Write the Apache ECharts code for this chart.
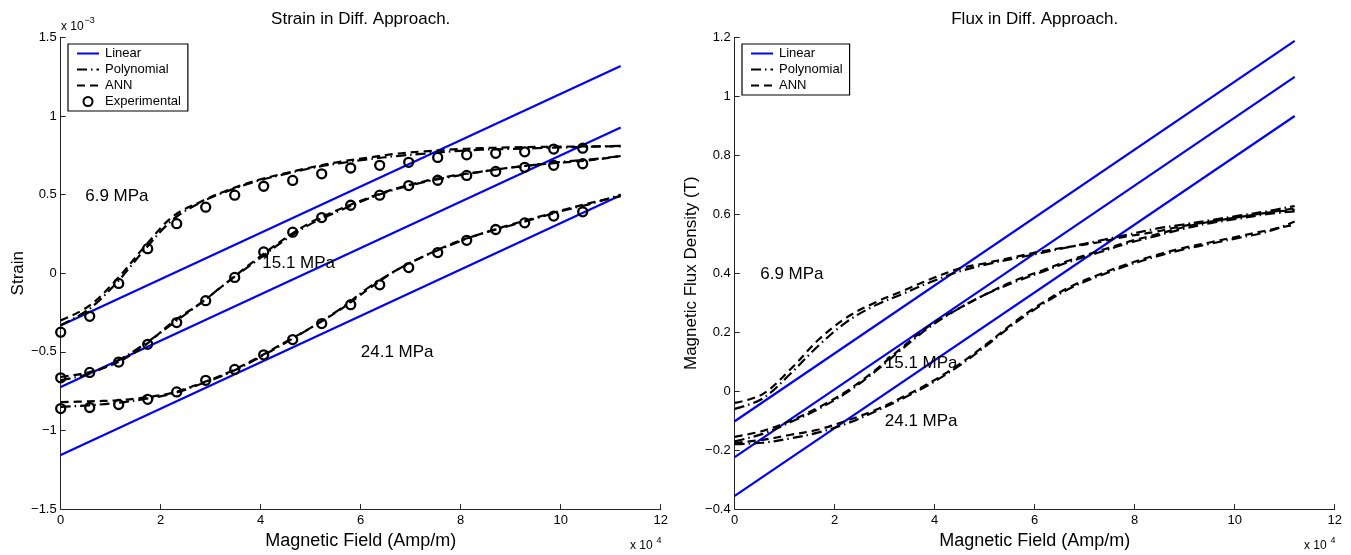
<!DOCTYPE html>
<html>
<head>
<meta charset="utf-8">
<script src="https://cdn.jsdelivr.net/npm/echarts@6/dist/echarts.min.js"></script>
<style>
  html, body { margin: 0; padding: 0; background: #fff; }
  #chart { width: 1351px; height: 555px; }
</style>
</head>
<body>
<div id="chart"></div>
<script>
// Magnetic field in units of 1e4 A/m, strain in units of 1e-3, flux density in T.
const fieldFit = [0, 0.56, 1.12, 1.68, 2.24, 2.8, 3.36, 3.92, 4.48, 5.04, 5.6,
                  6.16, 6.72, 7.28, 7.84, 8.4, 8.96, 9.52, 10.08, 10.64, 11.2];
const fieldExp = [0, 0.58, 1.16, 1.74, 2.32, 2.9, 3.48, 4.06, 4.64, 5.22,
                  5.8, 6.38, 6.96, 7.54, 8.12, 8.7, 9.28, 9.86, 10.44];
const fieldLin = [0, 11.2];

// Strain: measured points
const strainExp69  = [-0.375, -0.274, -0.065, 0.156, 0.315, 0.42, 0.496, 0.553, 0.59, 0.632,
                      0.669, 0.686, 0.705, 0.736, 0.753, 0.762, 0.772, 0.789, 0.795];
const strainExp151 = [-0.665, -0.631, -0.565, -0.452, -0.314, -0.175, -0.027, 0.135, 0.261, 0.354,
                      0.432, 0.496, 0.557, 0.591, 0.622, 0.647, 0.673, 0.686, 0.696];
const strainExp241 = [-0.861, -0.854, -0.835, -0.802, -0.755, -0.681, -0.612, -0.519, -0.422, -0.32,
                      -0.2, -0.074, 0.036, 0.131, 0.209, 0.278, 0.32, 0.363, 0.39];

// Strain: polynomial model
const strainPoly69  = [-0.33, -0.23, -0.06, 0.15, 0.34, 0.45, 0.525, 0.585, 0.63, 0.67, 0.70,
                       0.725, 0.745, 0.76, 0.775, 0.785, 0.79, 0.795, 0.80, 0.805, 0.81];
const strainPoly151 = [-0.68, -0.64, -0.56, -0.45, -0.32, -0.19, -0.05, 0.08, 0.21, 0.32, 0.40,
                       0.475, 0.535, 0.58, 0.615, 0.645, 0.67, 0.69, 0.71, 0.725, 0.745];
const strainPoly241 = [-0.85, -0.84, -0.825, -0.80, -0.765, -0.705, -0.635, -0.545, -0.445, -0.34, -0.225,
                       -0.09, 0.02, 0.11, 0.185, 0.25, 0.30, 0.35, 0.40, 0.445, 0.50];

// Strain: ANN model
const strainAnn69  = [-0.30, -0.21, -0.04, 0.17, 0.36, 0.455, 0.53, 0.59, 0.635, 0.675, 0.71,
                      0.735, 0.76, 0.775, 0.787, 0.795, 0.80, 0.803, 0.805, 0.806, 0.806];
const strainAnn151 = [-0.66, -0.63, -0.57, -0.46, -0.31, -0.19, -0.05, 0.09, 0.22, 0.33, 0.41,
                      0.48, 0.54, 0.585, 0.62, 0.645, 0.67, 0.69, 0.705, 0.72, 0.745];
const strainAnn241 = [-0.82, -0.815, -0.808, -0.79, -0.76, -0.70, -0.63, -0.54, -0.44, -0.34, -0.23,
                      -0.10, 0.02, 0.11, 0.19, 0.25, 0.305, 0.355, 0.405, 0.45, 0.49];

// Strain: linear model end values (6.9, 15.1, 24.1 MPa)
const strainLinStart = [-0.333, -0.723, -1.156];
const strainLinEnd   = [1.318, 0.926, 0.496];

// Flux density: polynomial model
const fluxPoly69  = [-0.06, -0.025, 0.06, 0.155, 0.235, 0.29, 0.33, 0.37, 0.405, 0.43, 0.45,
                     0.47, 0.49, 0.51, 0.53, 0.55, 0.565, 0.58, 0.595, 0.61, 0.628];
const fluxPoly151 = [-0.17, -0.145, -0.105, -0.06, -0.005, 0.065, 0.145, 0.22, 0.28, 0.33, 0.37,
                     0.405, 0.44, 0.47, 0.50, 0.525, 0.55, 0.57, 0.585, 0.60, 0.61];
const fluxPoly241 = [-0.18, -0.175, -0.16, -0.14, -0.11, -0.07, -0.025, 0.025, 0.085, 0.155, 0.23,
                     0.295, 0.35, 0.39, 0.425, 0.455, 0.48, 0.50, 0.52, 0.54, 0.575];

// Flux density: ANN model
const fluxAnn69  = [-0.04, -0.01, 0.075, 0.175, 0.25, 0.30, 0.34, 0.38, 0.415, 0.435, 0.455,
                    0.475, 0.49, 0.505, 0.525, 0.54, 0.56, 0.575, 0.59, 0.605, 0.62];
const fluxAnn151 = [-0.155, -0.135, -0.10, -0.055, 0.0, 0.07, 0.15, 0.225, 0.28, 0.33, 0.375,
                    0.41, 0.445, 0.475, 0.505, 0.53, 0.555, 0.575, 0.59, 0.605, 0.615];
const fluxAnn241 = [-0.175, -0.165, -0.148, -0.13, -0.10, -0.065, -0.02, 0.03, 0.09, 0.16, 0.235,
                    0.30, 0.355, 0.395, 0.43, 0.46, 0.485, 0.505, 0.525, 0.545, 0.565];

// Flux density: linear model end values
const fluxLinStart = [-0.102, -0.224, -0.355];
const fluxLinEnd   = [1.188, 1.066, 0.933];

// Stress annotations: [text, field, value]
const strainNotes = [['6.9 MPa', 0.49, 0.487], ['15.1 MPa', 4.03, 0.063], ['24.1 MPa', 6.0, -0.506]];
const fluxNotes   = [['6.9 MPa', 0.51, 0.397], ['15.1 MPa', 3.0, 0.095], ['24.1 MPa', 3.0, -0.102]];

const FONT = '"Liberation Sans", Arial, Helvetica, sans-serif';
const BLUE = '#0000ff';
const styleLin  = { color: BLUE, width: 2.2, type: 'solid' };
const stylePoly = { color: '#000', width: 2.2, type: [10, 4, 1.5, 4] };
const styleAnn  = { color: '#000', width: 2.2, type: [8, 5] };
const NOFILL = 'rgba(0,0,0,0)';

const pairs = (xs, ys) => xs.map((x, i) => [x, ys[i]]);
const minus = s => String(s).replace('-', '\u2212');

function curve(name, xs, ys, g, style, smooth) {
  return {
    type: 'line', name, xAxisIndex: g, yAxisIndex: g,
    data: pairs(xs, ys), symbol: 'none', smooth: smooth ? 0.35 : false,
    lineStyle: style, itemStyle: { color: NOFILL, borderWidth: 0 },
    silent: true, z: 2
  };
}
function points(name, xs, ys, g) {
  return {
    type: 'scatter', name, xAxisIndex: g, yAxisIndex: g,
    data: pairs(xs, ys), symbol: 'circle', symbolSize: 9,
    itemStyle: { color: NOFILL, borderColor: '#000', borderWidth: 2.3, opacity: 1 },
    silent: true, z: 3
  };
}
function notes(list, g) {
  return {
    type: 'scatter', xAxisIndex: g, yAxisIndex: g, silent: true, z: 4,
    symbolSize: 0.1, itemStyle: { color: '#000', opacity: 1 },
    data: list.map(n => [n[1], n[2], n[0]]),
    label: {
      show: true, position: 'right', distance: 0,
      formatter: p => p.data[2],
      fontFamily: FONT, fontSize: 17, color: '#000', opacity: 1
    }
  };
}

const series = [];
// left panel: strain
for (let i = 0; i < 3; i++) {
  series.push(curve('Linear', fieldLin, [strainLinStart[i], strainLinEnd[i]], 0, styleLin, false));
}
[strainPoly69, strainPoly151, strainPoly241].forEach(d => series.push(curve('Polynomial', fieldFit, d, 0, stylePoly, true)));
[strainAnn69, strainAnn151, strainAnn241].forEach(d => series.push(curve('ANN', fieldFit, d, 0, styleAnn, true)));
[strainExp69, strainExp151, strainExp241].forEach(d => series.push(points('Experimental', fieldExp, d, 0)));
series.push(notes(strainNotes, 0));
// right panel: flux density
for (let i = 0; i < 3; i++) {
  series.push(curve('Linear', fieldLin, [fluxLinStart[i], fluxLinEnd[i]], 1, styleLin, false));
}
[fluxPoly69, fluxPoly151, fluxPoly241].forEach(d => series.push(curve('Polynomial', fieldFit, d, 1, stylePoly, true)));
[fluxAnn69, fluxAnn151, fluxAnn241].forEach(d => series.push(curve('ANN', fieldFit, d, 1, styleAnn, true)));
series.push(notes(fluxNotes, 1));

const axisCommon = {
  axisLine: { show: true, onZero: false, lineStyle: { color: '#222', width: 1 } },
  axisTick: { show: true, inside: true, length: 5, lineStyle: { color: '#222', width: 1 } },
  splitLine: { show: false },
  axisLabel: { fontFamily: FONT, fontSize: 13, color: '#000', margin: 5 },
  nameTextStyle: { fontFamily: FONT, fontSize: 17, color: '#000' },
  nameLocation: 'middle'
};
function xAxis(g) {
  return Object.assign({}, axisCommon, {
    type: 'value', gridIndex: g, min: 0, max: 12, interval: 2,
    name: 'Magnetic Field (Amp/m)', nameGap: 21,
    nameTextStyle: { fontFamily: FONT, fontSize: 18, color: '#000' },
    axisLabel: Object.assign({}, axisCommon.axisLabel, { formatter: v => String(v) })
  });
}
function yAxis(g, min, max, step, name, gap) {
  return Object.assign({}, axisCommon, {
    type: 'value', gridIndex: g, min, max, interval: step, name, nameGap: gap,
    axisLabel: Object.assign({}, axisCommon.axisLabel, {
      margin: 4,
      formatter: v => minus(Math.round(v * 10) / 10)
    })
  });
}

function legend(names, left) {
  return {
    data: names, orient: 'vertical', left, top: 44,
    itemWidth: 22, itemHeight: 9, itemGap: 3,
    padding: [3, 7, 3, 8],
    borderColor: '#000', borderWidth: 1.2, backgroundColor: '#fff',
    textStyle: { fontFamily: FONT, fontSize: 13, color: '#000', padding: [0, 0, 0, 1] },
    selectedMode: false, z: 10
  };
}

function txt(text, x, y, size, align, vAlign) {
  return {
    type: 'text', x, y, silent: true, z: 20,
    style: {
      text, font: size + 'px ' + FONT, fill: '#000',
      align: align, verticalAlign: vAlign,
      textAlign: align, textVerticalAlign: vAlign
    }
  };
}

const chart = echarts.init(document.getElementById('chart'), null, { renderer: 'canvas' });
chart.setOption({
  animation: false,
  backgroundColor: '#fff',
  grid: [
    { left: 60.7, top: 37.3, width: 600, height: 473.4, containLabel: false },
    { left: 734.7, top: 37.3, width: 600, height: 473.4, containLabel: false }
  ],
  xAxis: [xAxis(0), xAxis(1)],
  yAxis: [
    yAxis(0, -1.5, 1.5, 0.5, 'Strain', 33),
    yAxis(1, -0.4, 1.2, 0.2, 'Magnetic Flux Density (T)', 35)
  ],
  legend: [
    legend(['Linear', 'Polynomial', 'ANN', 'Experimental'], 68),
    legend(['Linear', 'Polynomial', 'ANN'], 742)
  ],
  graphic: [
    txt('Strain in Diff. Approach.', 360.7, 19.5, 17, 'center', 'middle'),
    txt('Flux in Diff. Approach.', 1034.7, 19.5, 17, 'center', 'middle'),
    txt('x 10', 61, 27, 12, 'left', 'middle'),
    txt('\u22123', 84.5, 20.5, 9, 'left', 'middle'),
    txt('x 10', 630, 546, 12, 'left', 'middle'),
    txt('4', 656.5, 540.5, 9, 'left', 'middle'),
    txt('x 10', 1304, 546, 12, 'left', 'middle'),
    txt('4', 1330.5, 540.5, 9, 'left', 'middle')
  ],
  series
});
</script>
</body>
</html>
